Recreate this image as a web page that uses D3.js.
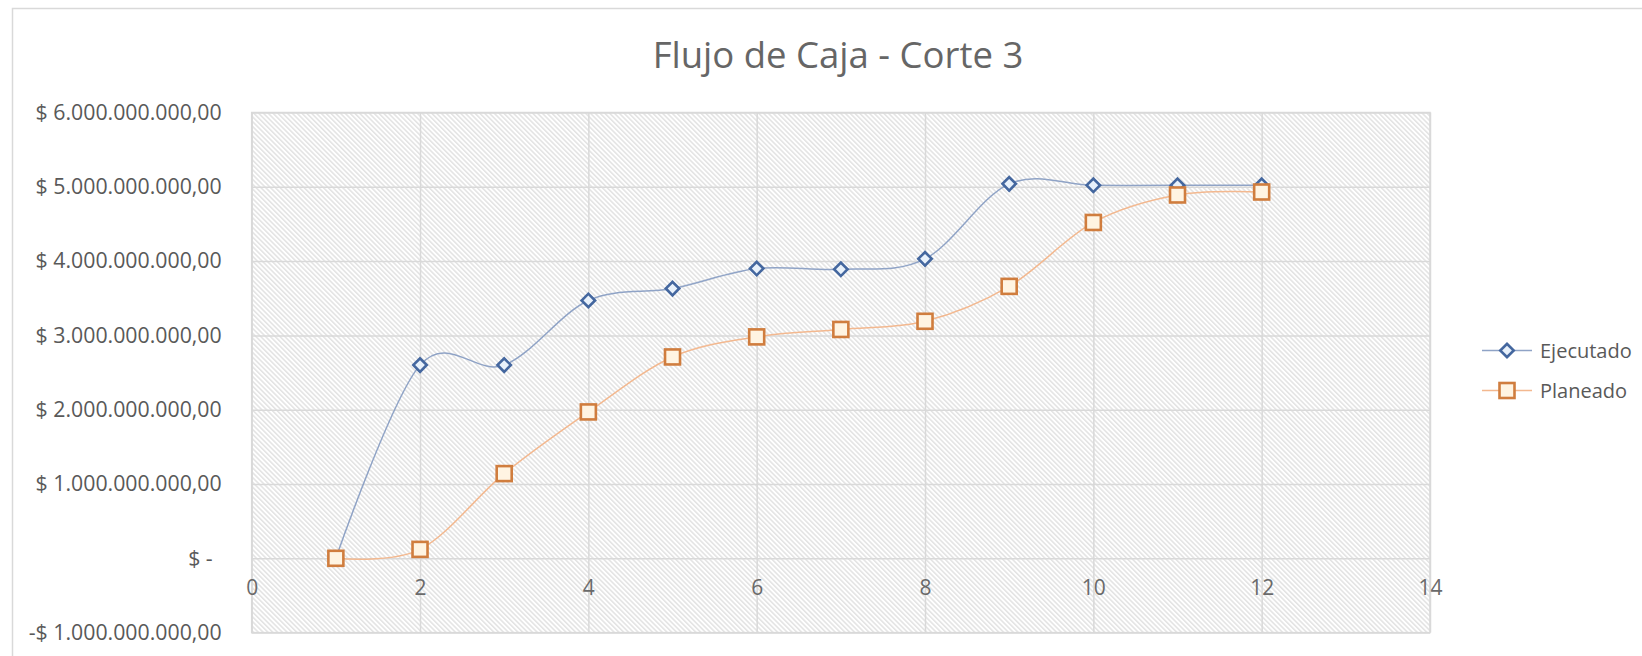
<!DOCTYPE html>
<html>
<head>
<meta charset="utf-8">
<script src="https://cdn.jsdelivr.net/npm/d3@7"></script>
<style>
  html, body { margin: 0; padding: 0; background: #ffffff; }
  svg { display: block; font-family: "Open Sans", "Noto Sans", sans-serif; }
</style>
</head>
<body>
<svg id="chart" width="1642" height="656"></svg>
<script>
// ---- data ----
const periods = [1, 2, 3, 4, 5, 6, 7, 8, 9, 10, 11, 12];
const ejecutado = [0, 2.60e9, 2.60e9, 3.47e9, 3.63e9, 3.90e9, 3.89e9, 4.03e9, 5.04e9, 5.02e9, 5.02e9, 5.02e9];
const planeado  = [0, 0.12e9, 1.14e9, 1.97e9, 2.71e9, 2.98e9, 3.08e9, 3.19e9, 3.66e9, 4.52e9, 4.89e9, 4.93e9];
const seriesNames = ["Ejecutado", "Planeado"];
const xTicks = [0, 2, 4, 6, 8, 10, 12, 14];
const yTicks = [-1e9, 0, 1e9, 2e9, 3e9, 4e9, 5e9, 6e9];
const titleText = "Flujo de Caja - Corte 3";

// ---- layout ----
const svg = d3.select("#chart");
const plot = { left: 251.7, right: 1430, top: 112.5, bottom: 632.6 };

const x = d3.scaleLinear().domain([0, 14]).range([plot.left, plot.right]);
const y = d3.scaleLinear().domain([-1e9, 6e9]).range([plot.bottom, plot.top]);

const locale = d3.formatLocale({ decimal: ",", thousands: ".", grouping: [3], currency: ["$ ", ""] });
const fmtNum = locale.format(",.2f");
function fmtMoney(v) {
  if (v === 0) return "$ -";
  if (v < 0) return "-$ " + fmtNum(-v);
  return "$ " + fmtNum(v);
}

// outer chart border
svg.append("rect")
  .attr("x", 12.5).attr("y", 8.5).attr("width", 1700).attr("height", 700)
  .attr("fill", "#ffffff").attr("stroke", "#d9d9d9").attr("stroke-width", 1.5);

// hatch pattern
const defs = svg.append("defs");
const pat = defs.append("pattern")
  .attr("id", "hatch").attr("patternUnits", "userSpaceOnUse")
  .attr("width", 3.4).attr("height", 3.4)
  .attr("patternTransform", "rotate(-45)");
pat.append("rect").attr("width", 3.4).attr("height", 3.4).attr("fill", "#ffffff");
pat.append("line").attr("x1", 0.8).attr("y1", 0).attr("x2", 0.8).attr("y2", 3.4)
  .attr("stroke", "#d8d8d8").attr("stroke-width", 1.1);

// plot background
svg.append("rect")
  .attr("x", plot.left).attr("y", plot.top)
  .attr("width", plot.right - plot.left).attr("height", plot.bottom - plot.top)
  .attr("fill", "url(#hatch)");

// gridlines
const gridY = svg.append("g").attr("transform", `translate(${plot.left},0)`)
  .call(d3.axisLeft(y).tickValues(yTicks).tickSize(-(plot.right - plot.left)).tickFormat(""));
gridY.select(".domain").remove();
gridY.selectAll("line").attr("stroke", "#d9d9d9").attr("stroke-width", 1.5);

const gridX = svg.append("g").attr("transform", `translate(0,${plot.bottom})`)
  .call(d3.axisBottom(x).tickValues(xTicks).tickSize(-(plot.bottom - plot.top)).tickFormat(""));
gridX.select(".domain").remove();
gridX.selectAll("line").attr("stroke", "#d9d9d9").attr("stroke-width", 1.5);

// plot border
svg.append("rect")
  .attr("x", plot.left).attr("y", plot.top)
  .attr("width", plot.right - plot.left).attr("height", plot.bottom - plot.top)
  .attr("fill", "none").attr("stroke", "#d9d9d9").attr("stroke-width", 1.5);

// y axis labels
const yAxis = svg.append("g").attr("transform", `translate(${plot.left},0)`)
  .call(d3.axisLeft(y).tickValues(yTicks).tickSize(0).tickPadding(30).tickFormat(fmtMoney));
yAxis.select(".domain").remove();
yAxis.selectAll("text")
  .attr("font-family", "'Open Sans', 'Noto Sans', sans-serif")
  .attr("font-size", 21.3).attr("fill", "#595959")
  .attr("dx", d => d === 0 ? -9 : 0);

// x axis labels (placed at y=0 crossing)
const xAxis = svg.append("g").attr("transform", `translate(0,${y(0)})`)
  .call(d3.axisBottom(x).tickValues(xTicks).tickSize(0).tickPadding(22).tickFormat(d3.format("d")));
xAxis.select(".domain").remove();
xAxis.selectAll("text")
  .attr("font-family", "'Open Sans', 'Noto Sans', sans-serif")
  .attr("font-size", 21).attr("fill", "#6a6a6a");

// title
svg.append("text")
  .attr("x", 838).attr("y", 68).attr("text-anchor", "middle")
  .attr("font-size", 36.5).attr("fill", "#666666")
  .text(titleText);

// series
const colors = {
  line: ["#8fa3c6", "#f3b88f"],
  stroke: ["#44679f", "#d07d3e"],
  fill: ["#e8f1fb", "#fff4e2"]
};
const series = [ejecutado, planeado];
const lineGen = d3.line().curve(d3.curveCatmullRom.alpha(0))
  .x((d, i) => x(periods[i])).y(d => y(d));

const diamond = d3.symbol().type(d3.symbolSquare).size(90);
series.forEach((vals, si) => {
  const g = svg.append("g");
  g.append("path").datum(vals)
    .attr("d", lineGen).attr("fill", "none")
    .attr("stroke", colors.line[si]).attr("stroke-width", 1.5);
});
series.forEach((vals, si) => {
  const g = svg.append("g");
  if (si === 0) {
    g.selectAll("path.m").data(vals).join("path").attr("class", "m")
      .attr("d", diamond)
      .attr("transform", (d, i) => `translate(${x(periods[i])},${y(d)}) rotate(45)`)
      .attr("fill", colors.fill[0]).attr("stroke", colors.stroke[0]).attr("stroke-width", 2.6);
  } else {
    g.selectAll("rect.m").data(vals).join("rect").attr("class", "m")
      .attr("x", (d, i) => x(periods[i]) - 7.5).attr("y", d => y(d) - 7.5)
      .attr("width", 15).attr("height", 15)
      .attr("fill", colors.fill[1]).attr("stroke", colors.stroke[1]).attr("stroke-width", 2.6);
  }
});

// legend
const legendY = [350.5, 390.5];
seriesNames.forEach((name, si) => {
  const g = svg.append("g");
  g.append("line").attr("x1", 1482).attr("x2", 1532)
    .attr("y1", legendY[si]).attr("y2", legendY[si])
    .attr("stroke", colors.line[si]).attr("stroke-width", 1.5);
  if (si === 0) {
    g.append("path").attr("d", diamond)
      .attr("transform", `translate(1507,${legendY[si]}) rotate(45)`)
      .attr("fill", colors.fill[0]).attr("stroke", colors.stroke[0]).attr("stroke-width", 2.6);
  } else {
    g.append("rect").attr("x", 1507 - 7.5).attr("y", legendY[si] - 7.5)
      .attr("width", 15).attr("height", 15)
      .attr("fill", colors.fill[1]).attr("stroke", colors.stroke[1]).attr("stroke-width", 2.6);
  }
  g.append("text").attr("x", 1540).attr("y", legendY[si]).attr("dy", "0.35em")
    .attr("font-size", 20).attr("fill", "#595959").text(name);
});
</script>
</body>
</html>
